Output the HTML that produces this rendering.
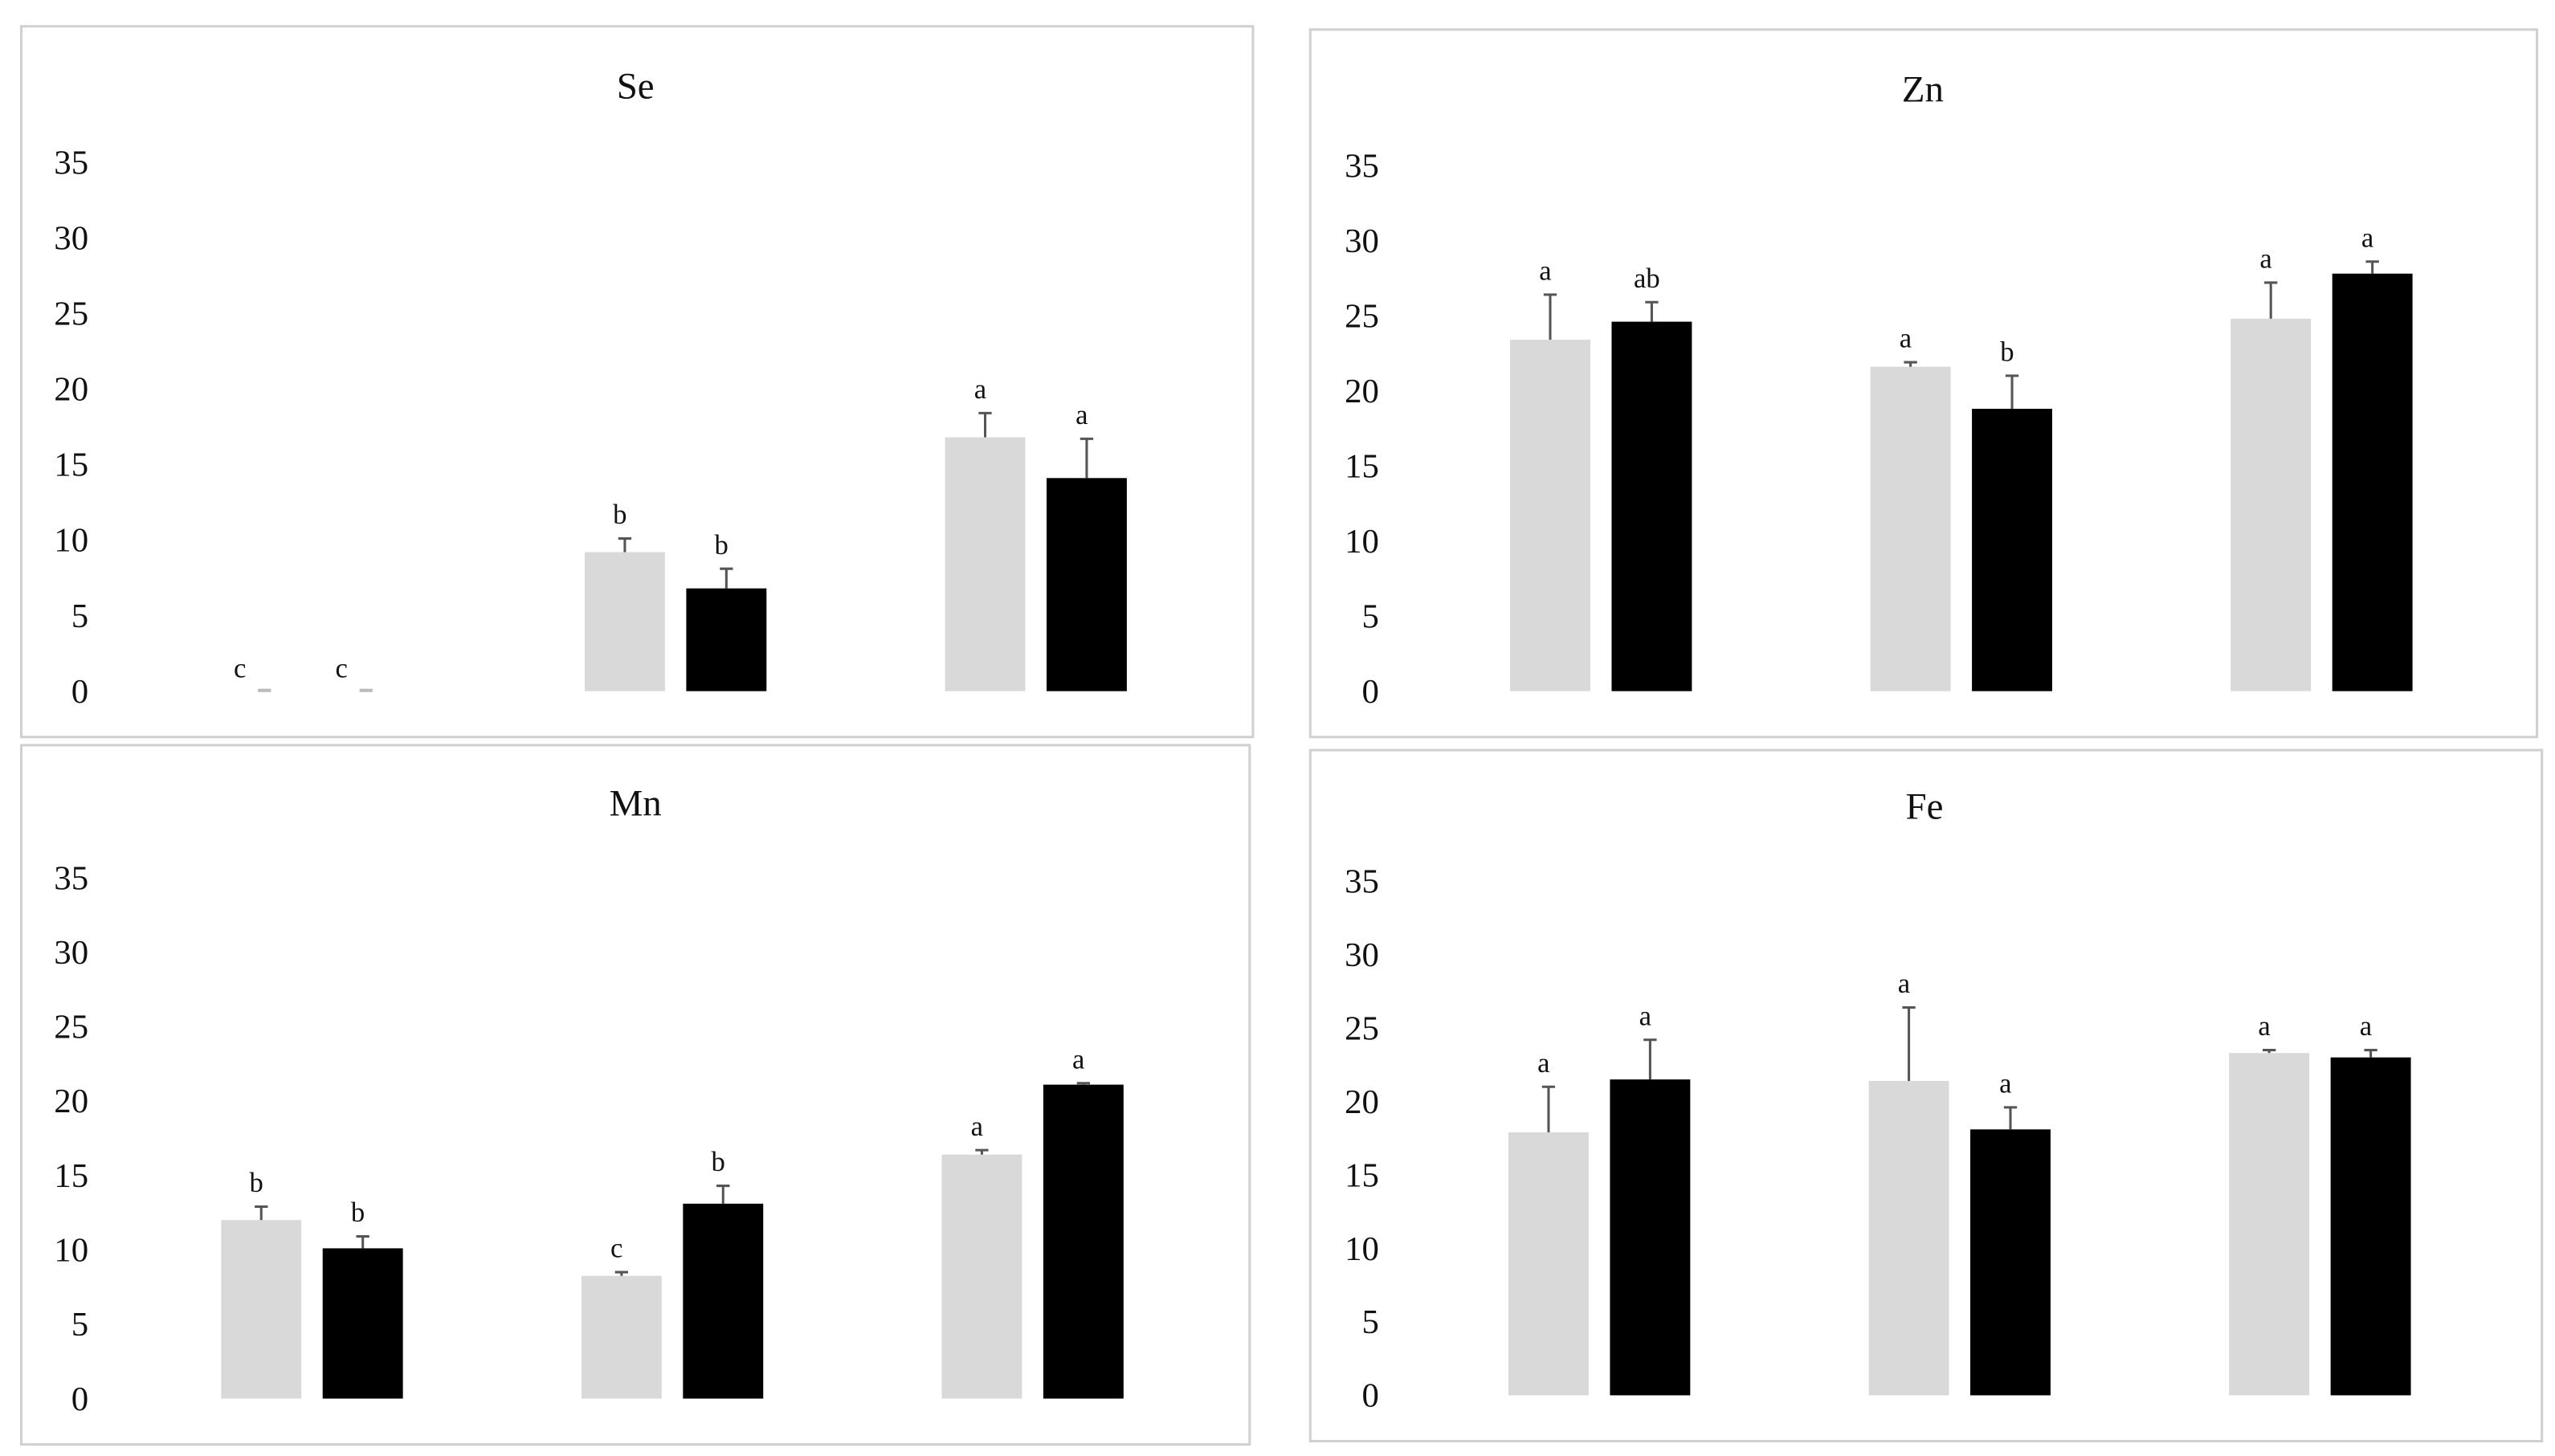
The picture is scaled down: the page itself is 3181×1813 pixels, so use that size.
<!DOCTYPE html>
<html><head><meta charset="utf-8"><style>
html,body{margin:0;padding:0;background:#fff;}
svg{display:block;}
text{font-family:"Liberation Serif",serif;fill:#111;}
</style></head><body>
<svg id="chart" width="3181" height="1813" viewBox="0 0 1560 889" xmlns="http://www.w3.org/2000/svg"></svg>
<script>
// ---- data ----
const panelTitles = ["Se","Zn","Mn","Fe"];
const tickLabels = [0,5,10,15,20,25,30,35];
const seGray = [0, 9.2, 16.8];
const seGrayErr = [0.05, 10.1, 18.4];
const seBlack = [0, 6.8, 14.1];
const seBlackErr = [0.05, 8.1, 16.7];
const seGrayLetters = ["c","b","a"];
const seBlackLetters = ["c","b","a"];
const znGray = [23.4, 21.6, 24.8];
const znGrayErr = [26.4, 21.9, 27.2];
const znBlack = [24.6, 18.8, 27.8];
const znBlackErr = [25.9, 21.0, 28.6];
const znGrayLetters = ["a","a","a"];
const znBlackLetters = ["ab","b","a"];
const mnGray = [12.0, 8.25, 16.4];
const mnGrayErr = [12.9, 8.5, 16.7];
const mnBlack = [10.1, 13.1, 21.1];
const mnBlackErr = [10.9, 14.3, 21.2];
const mnGrayLetters = ["b","c","a"];
const mnBlackLetters = ["b","b","a"];
const feGray = [17.9, 21.4, 23.3];
const feGrayErr = [21.0, 26.4, 23.5];
const feBlack = [21.5, 18.1, 23.0];
const feBlackErr = [24.2, 19.6, 23.5];
const feGrayLetters = ["a","a","a"];
const feBlackLetters = ["a","a","a"];

// ---- layout ----
const NS="http://www.w3.org/2000/svg";
const svg=document.getElementById('chart');
function mk(tag,attrs,parent){const e=document.createElementNS(NS,tag);for(const k in attrs)e.setAttribute(k,attrs[k]);(parent||svg).appendChild(e);return e;}
const panels=[
 {key:"se",box:[13,16,752,434],title:[388,60],y0:422,y35:99,labelX:54,g0:137,series:[seGray,seGrayErr,seBlack,seBlackErr,seGrayLetters,seBlackLetters]},
 {key:"zn",box:[800,18,749,432],title:[1174,62],y0:422,y35:101,labelX:842,g0:922,series:[znGray,znGrayErr,znBlack,znBlackErr,znGrayLetters,znBlackLetters]},
 {key:"mn",box:[13,455,750,427],title:[388,498],y0:854,y35:536,labelX:54,g0:135,series:[mnGray,mnGrayErr,mnBlack,mnBlackErr,mnGrayLetters,mnBlackLetters]},
 {key:"fe",box:[800,458,752,422],title:[1175,500],y0:852,y35:538,labelX:842,g0:921,series:[feGray,feGrayErr,feBlack,feBlackErr,feGrayLetters,feBlackLetters]}
];
const groupStep=220, barW=49, blackOff=62;
panels.forEach((p,pi)=>{
  const g=mk('g',{});
  
  
  const yScale=v=>p.y0-(p.y0-p.y35)*v/35;
  const xBar=(i,s)=>p.g0+i*groupStep+(s?blackOff:0);
  const frame=mk('rect',{x:p.box[0],y:p.box[1],width:p.box[2],height:p.box[3],fill:'none',stroke:'#d0d0d0','stroke-width':1.5},g);
  
  
  const t=mk('text',{x:p.title[0],y:p.title[1],'text-anchor':'middle','font-size':23},g);
  t.textContent=panelTitles[pi];
  
  
  tickLabels.forEach(v=>{
    const tl=mk('text',{x:p.labelX,y:yScale(v)+7,'text-anchor':'end','font-size':21},g);
    tl.textContent=v;
    
    
  });
  const [gv,ge,bv,be,gl,bl]=p.series;
  [[gv,ge,gl,'#d9d9d9',0],[bv,be,bl,'#000',1]].forEach(([vals,errs,lets,col,s])=>{
    vals.forEach((v,i)=>{
      const x=xBar(i,s), top=yScale(v), et=yScale(errs[i]), cx=x+barW/2;
      if(v>0){
        const r=mk('rect',{x:x,y:top,width:barW,height:p.y0-top,fill:col},g);
        
        
      }
      const el=mk('line',{x1:cx,x2:cx,y1:top,y2:et,stroke:'#555','stroke-width':1.5},g);
      
      
      const cap=mk('line',{x1:cx-4,x2:cx+4,y1:et,y2:et,stroke:v>0?'#555':'#bbb','stroke-width':v>0?1.5:2},g);
      
      
      const lx=v>0?cx-3:cx-15;
      const lt=mk('text',{x:lx,y:v>0?et-9:et-8,'text-anchor':'middle','font-size':17},g);
      lt.textContent=lets[i];
      
      
    });
  });
});
</script>
</body></html>
